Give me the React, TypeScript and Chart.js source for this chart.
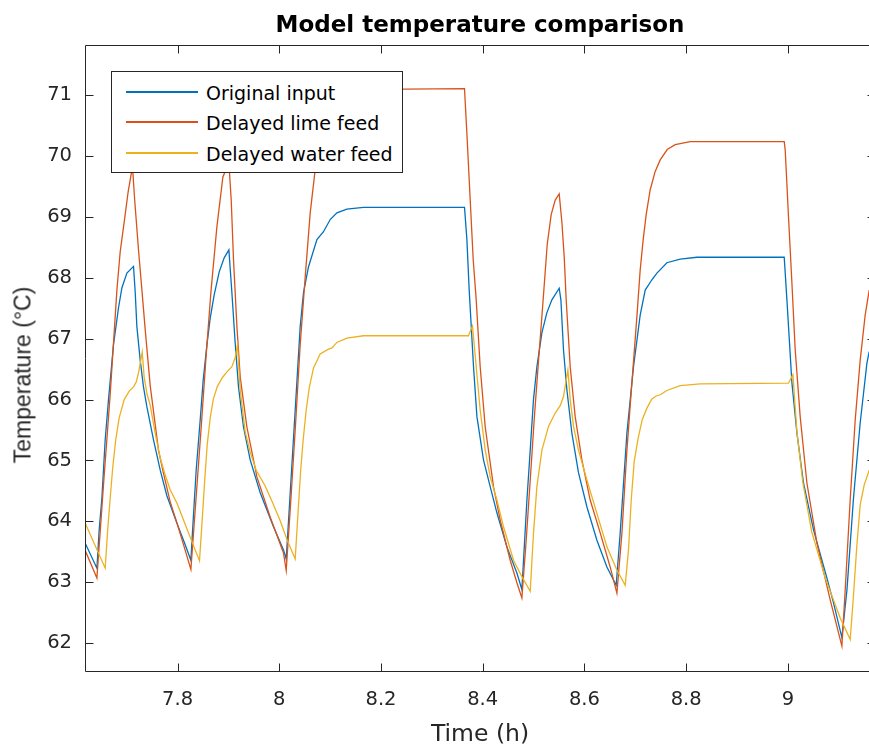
import React, { useEffect, useRef } from "react";
import { Chart, registerables } from "chart.js";

Chart.register(...registerables);

// ---------- data (time in hours, temperature in °C) ----------
const blueT = [
  7.6184, 7.6414, 7.6459, 7.6512, 7.6577, 7.6642, 7.674, 7.6839, 7.6906, 7.7004,
  7.7134, 7.7167, 7.72, 7.7265, 7.733, 7.7397, 7.7527, 7.7659, 7.779, 7.7987,
  7.8117, 7.8262, 7.8307, 7.8366, 7.8445, 7.8504, 7.8577, 7.8642, 7.872, 7.8819,
  7.8917, 7.9009, 7.9068, 7.9133, 7.9198, 7.9296, 7.9428, 7.9625, 7.9886, 8.0083,
  8.0136, 8.0215, 8.0313, 8.0411, 8.0476, 8.0574, 8.074, 8.0869, 8.1001, 8.1133,
  8.1329, 8.1656, 8.3642, 8.3689, 8.3734, 8.3819, 8.3886, 8.4015, 8.4147, 8.4279,
  8.4475, 8.4672, 8.477, 8.4869, 8.4934, 8.4998, 8.5065, 8.5164, 8.5262, 8.536,
  8.5504, 8.5537, 8.5588, 8.5655, 8.5753, 8.5883, 8.6048, 8.6245, 8.6442, 8.6624,
  8.6703, 8.6835, 8.6965, 8.7096, 8.7195, 8.7326, 8.7425, 8.7621, 8.7883, 8.8211,
  8.9928, 8.9981, 9.0079, 9.0178, 9.0307, 9.0504, 9.0767, 9.0897, 9.1062, 9.1161,
  9.129, 9.1422, 9.1554, 9.1599,
];
const blueV = [
  63.64, 63.23, 63.86, 64.38, 65.34, 66.0, 66.9, 67.51, 67.84, 68.08,
  68.19, 67.77, 67.2, 66.65, 66.21, 65.88, 65.34, 64.84, 64.42, 63.97,
  63.69, 63.36, 64.02, 64.84, 65.67, 66.32, 66.9, 67.34, 67.72, 68.1,
  68.33, 68.46, 67.76, 66.93, 66.21, 65.55, 65.01, 64.47, 63.91, 63.53,
  63.38, 64.47, 65.83, 67.2, 67.76, 68.18, 68.63, 68.76, 68.96, 69.07,
  69.13, 69.16, 69.16, 68.63, 67.8, 66.54, 65.72, 65.01, 64.57, 64.14,
  63.58, 63.15, 62.88, 64.35, 65.17, 66.0, 66.54, 67.1, 67.43, 67.64,
  67.83, 67.64, 66.82, 66.16, 65.45, 64.8, 64.24, 63.69, 63.25, 62.95,
  63.81, 65.45, 66.54, 67.39, 67.8, 67.97, 68.08, 68.25, 68.31, 68.34,
  68.34, 67.64, 66.28, 65.45, 64.63, 63.86, 63.07, 62.66, 62.09, 62.87,
  64.38, 65.62, 66.6, 66.79,
];

const redT = [
  7.6184, 7.6414, 7.6544, 7.6675, 7.6807, 7.6872, 7.6951, 7.7029, 7.7114, 7.7157,
  7.7232, 7.7299, 7.7364, 7.7462, 7.7625, 7.7718, 7.7855, 7.7993, 7.813, 7.8262,
  7.8347, 7.8465, 7.8563, 7.8655, 7.8773, 7.8891, 7.9009, 7.9055, 7.91, 7.9167,
  7.9232, 7.9363, 7.956, 7.9821, 8.0083, 8.0136, 8.0215, 8.0313, 8.0411, 8.051,
  8.0608, 8.0706, 8.0804, 8.0923, 8.106, 8.1237, 8.1493, 8.1886, 8.3642, 8.3695,
  8.3754, 8.3813, 8.3872, 8.395, 8.4049, 8.4212, 8.4344, 8.454, 8.4672, 8.477,
  8.4855, 8.4934, 8.5012, 8.5091, 8.5195, 8.5268, 8.5346, 8.5425, 8.5504, 8.5557,
  8.5602, 8.5641, 8.572, 8.5818, 8.595, 8.6113, 8.631, 8.6506, 8.6638, 8.6737,
  8.6835, 8.6933, 8.7031, 8.7096, 8.7155, 8.7214, 8.7293, 8.7391, 8.749, 8.7627,
  8.7785, 8.8079, 8.9928, 8.9947, 9.0012, 9.0079, 9.0144, 9.0242, 9.0374, 9.0571,
  9.0832, 9.1062, 9.1127, 9.1225, 9.1324, 9.1422, 9.152, 9.1599,
];
const redV = [
  63.52, 63.07, 64.6, 66.08, 67.8, 68.43, 68.92, 69.42, 69.83, 69.28,
  68.46, 67.8, 67.15, 66.23, 65.17, 64.81, 64.32, 63.96, 63.58, 63.21,
  64.19, 65.55, 66.74, 67.76, 68.84, 69.66, 69.89, 69.28, 68.3, 67.2,
  66.37, 65.55, 64.73, 64.07, 63.48, 63.19, 64.19, 65.5, 66.9, 68.02,
  69.07, 69.78, 70.27, 70.63, 70.86, 71.0, 71.07, 71.1, 71.11, 70.27,
  69.28, 68.3, 67.64, 66.54, 65.55, 64.57, 64.02, 63.36, 62.99, 62.74,
  63.69, 64.68, 65.67, 66.57, 67.72, 68.55, 69.04, 69.28, 69.38, 68.91,
  68.35, 67.64, 66.54, 65.72, 65.01, 64.35, 63.81, 63.25, 62.82, 63.81,
  65.17, 66.28, 67.36, 68.13, 68.63, 69.04, 69.45, 69.75, 69.94, 70.11,
  70.19, 70.24, 70.24, 70.11, 69.01, 67.92, 66.82, 65.72, 64.63, 63.64,
  62.71, 61.95, 62.87, 64.35, 65.67, 66.65, 67.39, 67.8,
];

const yellowT = [
  7.6184, 7.6577, 7.6626, 7.6675, 7.6725, 7.6784, 7.6852, 7.6951, 7.7049, 7.7134,
  7.7187, 7.7232, 7.7305, 7.7344, 7.7403, 7.7462, 7.756, 7.7659, 7.7757, 7.7855,
  7.7993, 7.8117, 7.8248, 7.8431, 7.8484, 7.8534, 7.8583, 7.8642, 7.8701, 7.8779,
  7.8878, 7.8976, 7.9068, 7.9133, 7.9178, 7.9232, 7.933, 7.9428, 7.9546, 7.9723,
  7.9861, 8.0018, 8.0156, 8.0313, 8.0372, 8.0421, 8.047, 8.0529, 8.0588, 8.0673,
  8.0804, 8.0968, 8.1035, 8.1133, 8.1329, 8.1656, 8.372, 8.3799, 8.3872, 8.395,
  8.4049, 8.4147, 8.4279, 8.4409, 8.4605, 8.477, 8.4934, 8.4998, 8.5065, 8.5164,
  8.5293, 8.5425, 8.5523, 8.5588, 8.5675, 8.572, 8.5785, 8.5883, 8.6048, 8.6245,
  8.6442, 8.6638, 8.6802, 8.6866, 8.692, 8.6978, 8.7057, 8.7136, 8.7228, 8.7326,
  8.7411, 8.749, 8.7621, 8.7883, 8.8276, 9.0012, 9.0099, 9.0178, 9.0292, 9.0468,
  9.0734, 9.1029, 9.1225, 9.1284, 9.1357, 9.1422, 9.1501, 9.1599,
];
const yellowV = [
  63.97, 63.23, 63.86, 64.38, 64.88, 65.34, 65.7, 66.0, 66.14, 66.21,
  66.29, 66.44, 66.78, 66.36, 66.08, 65.91, 65.45, 65.04, 64.76, 64.52,
  64.29, 64.02, 63.74, 63.35, 64.02, 64.68, 65.26, 65.7, 66.0, 66.21,
  66.36, 66.46, 66.54, 66.69, 66.9, 66.16, 65.47, 65.14, 64.84, 64.58,
  64.32, 64.01, 63.69, 63.38, 64.19, 64.84, 65.34, 65.83, 66.19, 66.52,
  66.75, 66.83, 66.85, 66.94, 67.01, 67.05, 67.05, 67.21, 66.54, 65.83,
  65.17, 64.73, 64.35, 63.91, 63.36, 63.09, 62.85, 63.8, 64.57, 65.17,
  65.56, 65.78, 65.9, 66.05, 66.49, 66.0, 65.56, 65.17, 64.68, 64.13,
  63.58, 63.2, 62.95, 63.53, 64.35, 64.98, 65.37, 65.67, 65.86, 66.01,
  66.06, 66.08, 66.15, 66.23, 66.26, 66.27, 66.41, 65.47, 64.65, 63.83,
  63.07, 62.41, 62.06, 62.71, 63.61, 64.27, 64.6, 64.84,
];

const seriesNames = ["Original input", "Delayed lime feed", "Delayed water feed"];
const seriesColors = ["#0072BD", "#D95319", "#EDB120"];

const xTicks = [7.8, 8, 8.2, 8.4, 8.6, 8.8, 9];
const xTickLabels = ["7.8", "8", "8.2", "8.4", "8.6", "8.8", "9"];
const yTicks = [62, 63, 64, 65, 66, 67, 68, 69, 70, 71];
const yTickLabels = ["62", "63", "64", "65", "66", "67", "68", "69", "70", "71"];

const titleText = "Model temperature comparison";
const xTitle = "Time (h)";
const yTitle = "Temperature (°C)";

const X_MIN = 7.618;
const X_MAX = 9.1713;
const Y_MIN = 61.54;
const Y_MAX = 71.82;

const AXIS_COLOR = "#262626";
const FONT = "'DejaVu Sans', sans-serif";
const FONT_NARROW = "'Liberation Sans', Arial, sans-serif";

function toPoints(ts: number[], vs: number[]) {
  return ts.map((t, i) => ({ x: t, y: vs[i] }));
}

const boxPlugin = {
  id: "matlabBox",
  afterDatasetsDraw(chart: any) {
    const { ctx, chartArea: a, scales } = chart;
    const L = Math.round(a.left) + 0.5;
    const R = Math.round(a.right) + 0.5;
    const T = Math.floor(a.top) + 0.5;
    const B = Math.round(a.bottom) + 0.5;
    const tl = 8;
    ctx.save();
    ctx.strokeStyle = AXIS_COLOR;
    ctx.lineWidth = 1;
    ctx.beginPath();
    ctx.rect(L, T, R - L, B - T);
    for (const v of xTicks) {
      const px = Math.round(scales.x.getPixelForValue(v)) + 0.5;
      ctx.moveTo(px, B);
      ctx.lineTo(px, B - tl);
      ctx.moveTo(px, T);
      ctx.lineTo(px, T + tl);
    }
    for (const v of yTicks) {
      const py = Math.round(scales.y.getPixelForValue(v)) + 0.5;
      ctx.moveTo(L, py);
      ctx.lineTo(L + tl, py);
      ctx.moveTo(R, py);
      ctx.lineTo(R - tl, py);
    }
    ctx.stroke();
    ctx.restore();
  },
};

export default function App() {
  const canvasRef = useRef<HTMLCanvasElement | null>(null);

  useEffect(() => {
    const canvas = canvasRef.current;
    if (!canvas) return;
    const series = [
      { t: blueT, v: blueV },
      { t: redT, v: redV },
      { t: yellowT, v: yellowV },
    ];
    const chart = new Chart(canvas, {
      type: "line",
      data: {
        datasets: series.map((s, i) => ({
          label: seriesNames[i],
          data: toPoints(s.t, s.v),
          borderColor: seriesColors[i],
          backgroundColor: seriesColors[i],
          borderWidth: 1.3,
          pointRadius: 0,
          tension: 0,
          fill: false,
          order: 2 - i,
        })),
      },
      options: {
        responsive: false,
        animation: false,
        devicePixelRatio: 1,
        layout: { padding: { left: 0, right: 1, top: 0, bottom: 0 } },
        plugins: {
          legend: { display: false },
          tooltip: { enabled: false },
          title: {
            display: true,
            fullSize: false,
            text: titleText,
            color: "#000000",
            font: { family: FONT, size: 23, weight: "bold", lineHeight: 1.2 },
            padding: { top: 12, bottom: 5.9 },
          },
        },
        scales: {
          x: {
            type: "linear",
            min: X_MIN,
            max: X_MAX,
            grid: { display: false, drawTicks: false, tickLength: 0 },
            border: { display: false },
            afterBuildTicks: (s: any) => {
              s.ticks = xTicks.map((v) => ({ value: v }));
            },
            afterFit: (s: any) => {
              s.height = 78;
            },
            ticks: {
              color: AXIS_COLOR,
              font: { family: FONT, size: 19.5, lineHeight: 1.2 },
              padding: 17,
              maxRotation: 0,
              autoSkip: false,
              callback: (_v: any, i: number) => xTickLabels[i],
            },
            title: {
              display: true,
              text: xTitle,
              color: AXIS_COLOR,
              font: { family: FONT, size: 23.5, lineHeight: 1.2 },
              padding: { top: 0, bottom: 0 },
            },
          },
          y: {
            type: "linear",
            min: Y_MIN,
            max: Y_MAX,
            grid: { display: false, drawTicks: false, tickLength: 0 },
            border: { display: false },
            afterBuildTicks: (s: any) => {
              s.ticks = yTicks.map((v) => ({ value: v }));
            },
            afterFit: (s: any) => {
              s.width = 85;
            },
            ticks: {
              color: AXIS_COLOR,
              font: { family: FONT, size: 19.5, lineHeight: 1.2 },
              padding: 13,
              autoSkip: false,
              callback: (_v: any, i: number) => yTickLabels[i],
            },
            title: { display: false },
          },
        },
      },
      plugins: [boxPlugin],
    } as any);
    return () => chart.destroy();
  }, []);

  const rowY = [91, 121, 152];

  return (
    <div
      style={{
        position: "fixed",
        left: 0,
        top: 0,
        width: 869,
        height: 749,
        overflow: "hidden",
        background: "#ffffff",
      }}
    >
      <canvas
        ref={canvasRef}
        width={876}
        height={749}
        style={{ display: "block", width: 876, height: 749 }}
      />
      <div
        style={{
          position: "absolute",
          left: 22.5,
          top: 375,
          transform: "translate(-50%, -50%) rotate(-90deg)",
          fontFamily: FONT_NARROW,
          fontSize: 23,
          lineHeight: "27px",
          color: AXIS_COLOR,
          whiteSpace: "nowrap",
        }}
      >
        {yTitle}
      </div>
      <div
        style={{
          position: "absolute",
          left: 111,
          top: 71,
          width: 292,
          height: 102,
          boxSizing: "border-box",
          border: `1px solid ${AXIS_COLOR}`,
          background: "#ffffff",
        }}
      >
        {seriesNames.map((name, i) => (
          <React.Fragment key={name}>
            <div
              style={{
                position: "absolute",
                left: 14,
                top: rowY[i] - 72,
                width: 72,
                height: 1.5,
                background: seriesColors[i],
              }}
            />
            <div
              style={{
                position: "absolute",
                left: 94,
                top: rowY[i] - 81.6,
                height: 24,
                lineHeight: "24px",
                fontFamily: FONT,
                fontSize: 19,
                color: "#000000",
                whiteSpace: "nowrap",
              }}
            >
              {name}
            </div>
          </React.Fragment>
        ))}
      </div>
    </div>
  );
}
